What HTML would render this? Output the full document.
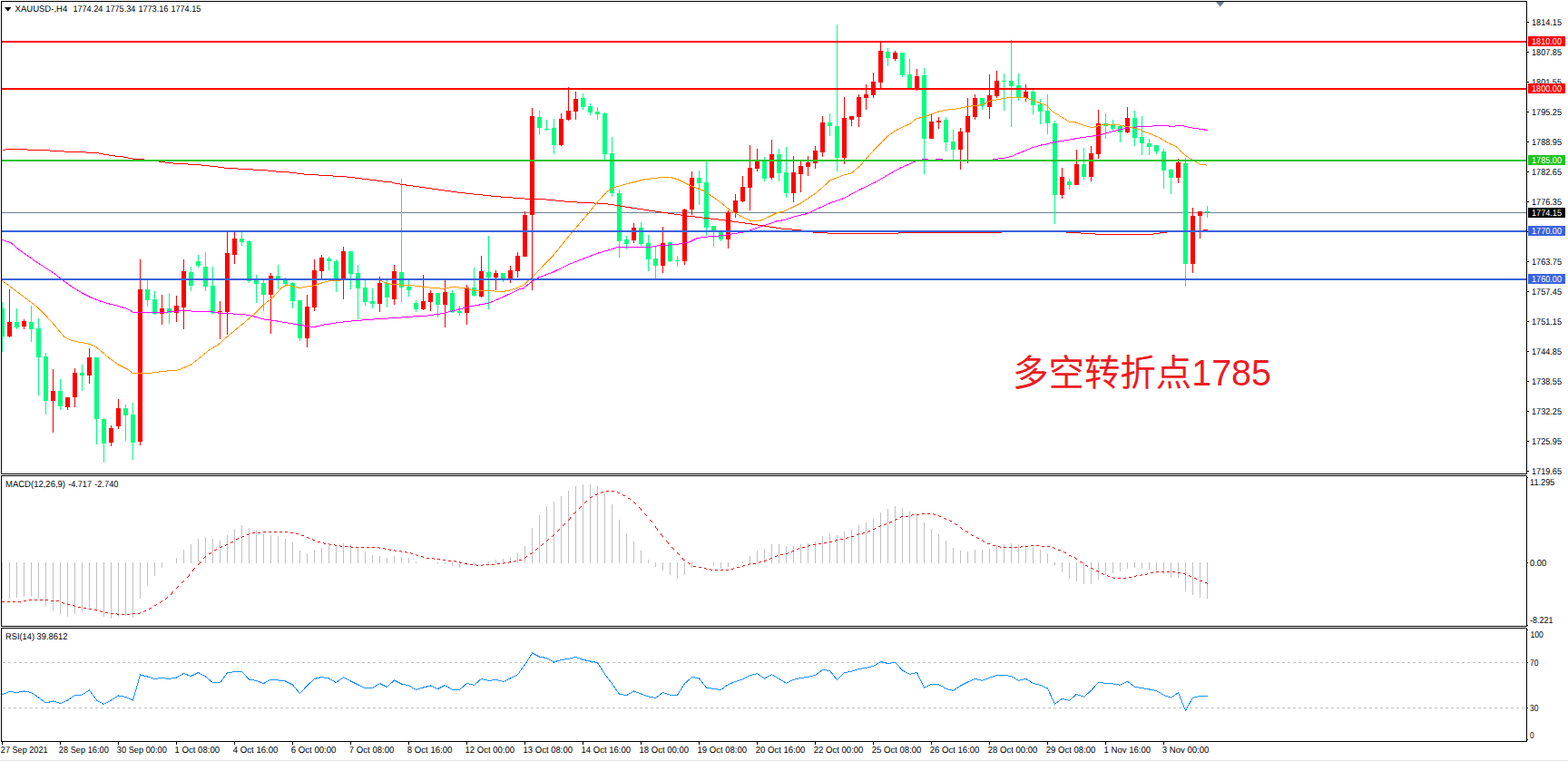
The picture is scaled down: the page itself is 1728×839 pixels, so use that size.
<!DOCTYPE html>
<html><head><meta charset="utf-8"><title>XAUUSD H4</title><style>html,body{margin:0;padding:0;background:#fff;overflow:hidden}svg{display:block}</style></head><body><svg width="1728" height="839" viewBox="0 0 1728 839" font-family="'Liberation Sans', sans-serif" shape-rendering="crispEdges">
<rect x="0" y="0" width="1728" height="839" fill="#fff"/>
<rect x="0" y="838" width="1728" height="1" fill="#e4e4e4"/>
<rect x="2" y="234" width="1680" height="1" fill="#708090"/>
<g>
<rect x="2" y="333" width="1" height="55" fill="#00ff7f"/><rect x="2" y="340" width="3" height="31" fill="#00ff7f"/>
<rect x="10" y="319" width="1" height="53" fill="#ff0000"/><rect x="8" y="355" width="5" height="16" fill="#ff0000"/>
<rect x="18" y="340" width="1" height="23" fill="#00ff7f"/><rect x="16" y="355" width="5" height="6" fill="#00ff7f"/>
<rect x="26" y="352" width="1" height="11" fill="#ff0000"/><rect x="24" y="354" width="5" height="6" fill="#ff0000"/>
<rect x="34" y="337" width="1" height="40" fill="#00ff7f"/><rect x="32" y="355" width="5" height="8" fill="#00ff7f"/>
<rect x="42" y="351" width="1" height="85" fill="#00ff7f"/><rect x="40" y="362" width="5" height="32" fill="#00ff7f"/>
<rect x="50" y="389" width="1" height="68" fill="#00ff7f"/><rect x="48" y="393" width="5" height="49" fill="#00ff7f"/>
<rect x="58" y="407" width="1" height="70" fill="#ff0000"/><rect x="56" y="431" width="5" height="11" fill="#ff0000"/>
<rect x="66" y="418" width="1" height="34" fill="#00ff7f"/><rect x="64" y="431" width="5" height="17" fill="#00ff7f"/>
<rect x="74" y="438" width="1" height="14" fill="#ff0000"/><rect x="72" y="438" width="5" height="11" fill="#ff0000"/>
<rect x="82" y="406" width="1" height="43" fill="#ff0000"/><rect x="80" y="411" width="5" height="27" fill="#ff0000"/>
<rect x="90" y="402" width="1" height="29" fill="#00ff7f"/><rect x="88" y="411" width="5" height="3" fill="#00ff7f"/>
<rect x="98" y="384" width="1" height="39" fill="#ff0000"/><rect x="96" y="394" width="5" height="20" fill="#ff0000"/>
<rect x="106" y="394" width="1" height="96" fill="#00ff7f"/><rect x="104" y="394" width="5" height="68" fill="#00ff7f"/>
<rect x="114" y="461" width="1" height="49" fill="#00ff7f"/><rect x="112" y="462" width="5" height="27" fill="#00ff7f"/>
<rect x="122" y="469" width="1" height="23" fill="#ff0000"/><rect x="120" y="472" width="5" height="16" fill="#ff0000"/>
<rect x="130" y="440" width="1" height="33" fill="#ff0000"/><rect x="128" y="450" width="5" height="20" fill="#ff0000"/>
<rect x="138" y="446" width="1" height="40" fill="#00ff7f"/><rect x="136" y="450" width="5" height="8" fill="#00ff7f"/>
<rect x="146" y="444" width="1" height="63" fill="#00ff7f"/><rect x="144" y="457" width="5" height="31" fill="#00ff7f"/>
<rect x="154" y="286" width="1" height="205" fill="#ff0000"/><rect x="152" y="319" width="5" height="168" fill="#ff0000"/>
<rect x="162" y="309" width="1" height="29" fill="#00ff7f"/><rect x="160" y="319" width="5" height="12" fill="#00ff7f"/>
<rect x="170" y="321" width="1" height="26" fill="#00ff7f"/><rect x="168" y="330" width="5" height="16" fill="#00ff7f"/>
<rect x="178" y="325" width="1" height="33" fill="#ff0000"/><rect x="176" y="340" width="5" height="6" fill="#ff0000"/>
<rect x="186" y="323" width="1" height="34" fill="#00ff7f"/><rect x="184" y="340" width="5" height="5" fill="#00ff7f"/>
<rect x="194" y="326" width="1" height="29" fill="#ff0000"/><rect x="192" y="337" width="5" height="8" fill="#ff0000"/>
<rect x="202" y="286" width="1" height="77" fill="#ff0000"/><rect x="200" y="299" width="5" height="40" fill="#ff0000"/>
<rect x="210" y="294" width="1" height="27" fill="#00ff7f"/><rect x="208" y="300" width="5" height="15" fill="#00ff7f"/>
<rect x="218" y="281" width="1" height="14" fill="#00ff7f"/><rect x="216" y="288" width="5" height="5" fill="#00ff7f"/>
<rect x="226" y="278" width="1" height="43" fill="#00ff7f"/><rect x="224" y="294" width="5" height="22" fill="#00ff7f"/>
<rect x="234" y="294" width="1" height="52" fill="#00ff7f"/><rect x="232" y="315" width="5" height="30" fill="#00ff7f"/>
<rect x="242" y="332" width="1" height="42" fill="#ff0000"/><rect x="240" y="343" width="5" height="1" fill="#ff0000"/>
<rect x="250" y="256" width="1" height="113" fill="#ff0000"/><rect x="248" y="279" width="5" height="65" fill="#ff0000"/>
<rect x="258" y="256" width="1" height="35" fill="#ff0000"/><rect x="256" y="263" width="5" height="18" fill="#ff0000"/>
<rect x="266" y="256" width="1" height="15" fill="#00ff7f"/><rect x="264" y="263" width="5" height="4" fill="#00ff7f"/>
<rect x="274" y="265" width="1" height="47" fill="#00ff7f"/><rect x="272" y="266" width="5" height="44" fill="#00ff7f"/>
<rect x="282" y="303" width="1" height="31" fill="#00ff7f"/><rect x="280" y="308" width="5" height="5" fill="#00ff7f"/>
<rect x="290" y="308" width="1" height="35" fill="#00ff7f"/><rect x="288" y="312" width="5" height="13" fill="#00ff7f"/>
<rect x="298" y="301" width="1" height="67" fill="#ff0000"/><rect x="296" y="304" width="5" height="21" fill="#ff0000"/>
<rect x="306" y="292" width="1" height="27" fill="#00ff7f"/><rect x="304" y="304" width="5" height="4" fill="#00ff7f"/>
<rect x="314" y="306" width="1" height="8" fill="#00ff7f"/><rect x="312" y="308" width="5" height="5" fill="#00ff7f"/>
<rect x="322" y="311" width="1" height="29" fill="#00ff7f"/><rect x="320" y="312" width="5" height="20" fill="#00ff7f"/>
<rect x="330" y="331" width="1" height="45" fill="#00ff7f"/><rect x="328" y="331" width="5" height="42" fill="#00ff7f"/>
<rect x="338" y="325" width="1" height="58" fill="#ff0000"/><rect x="336" y="338" width="5" height="35" fill="#ff0000"/>
<rect x="346" y="286" width="1" height="57" fill="#ff0000"/><rect x="344" y="298" width="5" height="41" fill="#ff0000"/>
<rect x="354" y="281" width="1" height="26" fill="#ff0000"/><rect x="352" y="284" width="5" height="15" fill="#ff0000"/>
<rect x="362" y="283" width="1" height="15" fill="#00ff7f"/><rect x="360" y="285" width="5" height="3" fill="#00ff7f"/>
<rect x="370" y="286" width="1" height="36" fill="#00ff7f"/><rect x="368" y="288" width="5" height="20" fill="#00ff7f"/>
<rect x="378" y="272" width="1" height="58" fill="#ff0000"/><rect x="376" y="277" width="5" height="31" fill="#ff0000"/>
<rect x="386" y="277" width="1" height="42" fill="#00ff7f"/><rect x="384" y="277" width="5" height="25" fill="#00ff7f"/>
<rect x="394" y="292" width="1" height="60" fill="#00ff7f"/><rect x="392" y="301" width="5" height="17" fill="#00ff7f"/>
<rect x="402" y="309" width="1" height="28" fill="#00ff7f"/><rect x="400" y="317" width="5" height="16" fill="#00ff7f"/>
<rect x="410" y="318" width="1" height="22" fill="#00ff7f"/><rect x="408" y="332" width="5" height="3" fill="#00ff7f"/>
<rect x="418" y="305" width="1" height="39" fill="#ff0000"/><rect x="416" y="312" width="5" height="23" fill="#ff0000"/>
<rect x="426" y="308" width="1" height="31" fill="#00ff7f"/><rect x="424" y="312" width="5" height="16" fill="#00ff7f"/>
<rect x="434" y="292" width="1" height="44" fill="#ff0000"/><rect x="432" y="299" width="5" height="31" fill="#ff0000"/>
<rect x="442" y="197" width="1" height="136" fill="#00ff7f"/><rect x="440" y="300" width="5" height="17" fill="#00ff7f"/>
<rect x="450" y="308" width="1" height="19" fill="#00ff7f"/><rect x="448" y="316" width="5" height="4" fill="#00ff7f"/>
<rect x="458" y="331" width="1" height="13" fill="#00ff7f"/><rect x="456" y="334" width="5" height="7" fill="#00ff7f"/>
<rect x="466" y="303" width="1" height="39" fill="#ff0000"/><rect x="464" y="332" width="5" height="9" fill="#ff0000"/>
<rect x="474" y="320" width="1" height="23" fill="#ff0000"/><rect x="472" y="323" width="5" height="10" fill="#ff0000"/>
<rect x="482" y="323" width="1" height="27" fill="#00ff7f"/><rect x="480" y="323" width="5" height="13" fill="#00ff7f"/>
<rect x="490" y="309" width="1" height="52" fill="#ff0000"/><rect x="488" y="322" width="5" height="14" fill="#ff0000"/>
<rect x="498" y="320" width="1" height="25" fill="#00ff7f"/><rect x="496" y="323" width="5" height="21" fill="#00ff7f"/>
<rect x="506" y="337" width="1" height="11" fill="#00ff7f"/><rect x="504" y="343" width="5" height="2" fill="#00ff7f"/>
<rect x="514" y="314" width="1" height="44" fill="#ff0000"/><rect x="512" y="317" width="5" height="28" fill="#ff0000"/>
<rect x="522" y="295" width="1" height="32" fill="#00ff7f"/><rect x="520" y="317" width="5" height="9" fill="#00ff7f"/>
<rect x="530" y="282" width="1" height="46" fill="#ff0000"/><rect x="528" y="299" width="5" height="28" fill="#ff0000"/>
<rect x="538" y="260" width="1" height="81" fill="#00ff7f"/><rect x="536" y="300" width="5" height="6" fill="#00ff7f"/>
<rect x="546" y="298" width="1" height="22" fill="#ff0000"/><rect x="544" y="301" width="5" height="5" fill="#ff0000"/>
<rect x="554" y="301" width="1" height="10" fill="#00ff7f"/><rect x="552" y="301" width="5" height="7" fill="#00ff7f"/>
<rect x="562" y="293" width="1" height="19" fill="#ff0000"/><rect x="560" y="298" width="5" height="10" fill="#ff0000"/>
<rect x="570" y="278" width="1" height="28" fill="#ff0000"/><rect x="568" y="282" width="5" height="17" fill="#ff0000"/>
<rect x="578" y="233" width="1" height="50" fill="#ff0000"/><rect x="576" y="237" width="5" height="46" fill="#ff0000"/>
<rect x="586" y="119" width="1" height="201" fill="#ff0000"/><rect x="584" y="128" width="5" height="109" fill="#ff0000"/>
<rect x="594" y="122" width="1" height="27" fill="#00ff7f"/><rect x="592" y="129" width="5" height="12" fill="#00ff7f"/>
<rect x="602" y="132" width="1" height="12" fill="#00ff7f"/><rect x="600" y="142" width="5" height="1" fill="#00ff7f"/>
<rect x="610" y="131" width="1" height="39" fill="#00ff7f"/><rect x="608" y="141" width="5" height="19" fill="#00ff7f"/>
<rect x="618" y="125" width="1" height="36" fill="#ff0000"/><rect x="616" y="131" width="5" height="29" fill="#ff0000"/>
<rect x="626" y="96" width="1" height="37" fill="#ff0000"/><rect x="624" y="122" width="5" height="10" fill="#ff0000"/>
<rect x="634" y="101" width="1" height="31" fill="#ff0000"/><rect x="632" y="109" width="5" height="14" fill="#ff0000"/>
<rect x="642" y="103" width="1" height="18" fill="#00ff7f"/><rect x="640" y="108" width="5" height="10" fill="#00ff7f"/>
<rect x="650" y="114" width="1" height="13" fill="#00ff7f"/><rect x="648" y="117" width="5" height="7" fill="#00ff7f"/>
<rect x="658" y="118" width="1" height="14" fill="#00ff7f"/><rect x="656" y="123" width="5" height="3" fill="#00ff7f"/>
<rect x="666" y="124" width="1" height="52" fill="#00ff7f"/><rect x="664" y="125" width="5" height="45" fill="#00ff7f"/>
<rect x="674" y="151" width="1" height="66" fill="#00ff7f"/><rect x="672" y="169" width="5" height="44" fill="#00ff7f"/>
<rect x="682" y="209" width="1" height="75" fill="#00ff7f"/><rect x="680" y="213" width="5" height="53" fill="#00ff7f"/>
<rect x="690" y="260" width="1" height="15" fill="#00ff7f"/><rect x="688" y="264" width="5" height="5" fill="#00ff7f"/>
<rect x="698" y="246" width="1" height="22" fill="#ff0000"/><rect x="696" y="251" width="5" height="14" fill="#ff0000"/>
<rect x="706" y="245" width="1" height="26" fill="#00ff7f"/><rect x="704" y="251" width="5" height="18" fill="#00ff7f"/>
<rect x="714" y="259" width="1" height="40" fill="#00ff7f"/><rect x="712" y="268" width="5" height="18" fill="#00ff7f"/>
<rect x="722" y="272" width="1" height="35" fill="#00ff7f"/><rect x="720" y="285" width="5" height="8" fill="#00ff7f"/>
<rect x="730" y="250" width="1" height="51" fill="#ff0000"/><rect x="728" y="268" width="5" height="25" fill="#ff0000"/>
<rect x="738" y="267" width="1" height="22" fill="#00ff7f"/><rect x="736" y="267" width="5" height="21" fill="#00ff7f"/>
<rect x="746" y="282" width="1" height="12" fill="#00ff7f"/><rect x="744" y="287" width="5" height="1" fill="#00ff7f"/>
<rect x="754" y="230" width="1" height="62" fill="#ff0000"/><rect x="752" y="231" width="5" height="57" fill="#ff0000"/>
<rect x="762" y="189" width="1" height="48" fill="#ff0000"/><rect x="760" y="196" width="5" height="35" fill="#ff0000"/>
<rect x="770" y="188" width="1" height="38" fill="#00ff7f"/><rect x="768" y="196" width="5" height="6" fill="#00ff7f"/>
<rect x="778" y="178" width="1" height="82" fill="#00ff7f"/><rect x="776" y="201" width="5" height="50" fill="#00ff7f"/>
<rect x="786" y="249" width="1" height="23" fill="#00ff7f"/><rect x="784" y="249" width="5" height="5" fill="#00ff7f"/>
<rect x="794" y="254" width="1" height="12" fill="#00ff7f"/><rect x="792" y="254" width="5" height="10" fill="#00ff7f"/>
<rect x="802" y="232" width="1" height="42" fill="#ff0000"/><rect x="800" y="234" width="5" height="30" fill="#ff0000"/>
<rect x="810" y="214" width="1" height="26" fill="#ff0000"/><rect x="808" y="221" width="5" height="14" fill="#ff0000"/>
<rect x="818" y="194" width="1" height="29" fill="#ff0000"/><rect x="816" y="206" width="5" height="16" fill="#ff0000"/>
<rect x="826" y="160" width="1" height="72" fill="#ff0000"/><rect x="824" y="185" width="5" height="22" fill="#ff0000"/>
<rect x="834" y="164" width="1" height="25" fill="#ff0000"/><rect x="832" y="177" width="5" height="9" fill="#ff0000"/>
<rect x="842" y="173" width="1" height="27" fill="#00ff7f"/><rect x="840" y="177" width="5" height="20" fill="#00ff7f"/>
<rect x="850" y="154" width="1" height="44" fill="#ff0000"/><rect x="848" y="170" width="5" height="26" fill="#ff0000"/>
<rect x="858" y="164" width="1" height="36" fill="#00ff7f"/><rect x="856" y="170" width="5" height="21" fill="#00ff7f"/>
<rect x="866" y="162" width="1" height="56" fill="#00ff7f"/><rect x="864" y="190" width="5" height="23" fill="#00ff7f"/>
<rect x="874" y="172" width="1" height="51" fill="#ff0000"/><rect x="872" y="190" width="5" height="23" fill="#ff0000"/>
<rect x="882" y="178" width="1" height="34" fill="#ff0000"/><rect x="880" y="183" width="5" height="9" fill="#ff0000"/>
<rect x="890" y="172" width="1" height="22" fill="#ff0000"/><rect x="888" y="179" width="5" height="5" fill="#ff0000"/>
<rect x="898" y="161" width="1" height="25" fill="#ff0000"/><rect x="896" y="166" width="5" height="14" fill="#ff0000"/>
<rect x="906" y="128" width="1" height="45" fill="#ff0000"/><rect x="904" y="135" width="5" height="33" fill="#ff0000"/>
<rect x="914" y="125" width="1" height="25" fill="#00ff7f"/><rect x="912" y="135" width="5" height="4" fill="#00ff7f"/>
<rect x="922" y="27" width="1" height="162" fill="#00ff7f"/><rect x="920" y="139" width="5" height="35" fill="#00ff7f"/>
<rect x="930" y="107" width="1" height="74" fill="#ff0000"/><rect x="928" y="130" width="5" height="44" fill="#ff0000"/>
<rect x="938" y="128" width="1" height="11" fill="#ff0000"/><rect x="936" y="128" width="5" height="4" fill="#ff0000"/>
<rect x="946" y="104" width="1" height="36" fill="#ff0000"/><rect x="944" y="107" width="5" height="22" fill="#ff0000"/>
<rect x="954" y="93" width="1" height="28" fill="#ff0000"/><rect x="952" y="104" width="5" height="4" fill="#ff0000"/>
<rect x="962" y="80" width="1" height="28" fill="#ff0000"/><rect x="960" y="90" width="5" height="15" fill="#ff0000"/>
<rect x="970" y="47" width="1" height="50" fill="#ff0000"/><rect x="968" y="56" width="5" height="35" fill="#ff0000"/>
<rect x="978" y="53" width="1" height="20" fill="#00ff7f"/><rect x="976" y="57" width="5" height="7" fill="#00ff7f"/>
<rect x="986" y="56" width="1" height="11" fill="#ff0000"/><rect x="984" y="58" width="5" height="7" fill="#ff0000"/>
<rect x="994" y="58" width="1" height="27" fill="#00ff7f"/><rect x="992" y="58" width="5" height="25" fill="#00ff7f"/>
<rect x="1002" y="65" width="1" height="33" fill="#00ff7f"/><rect x="1000" y="82" width="5" height="16" fill="#00ff7f"/>
<rect x="1010" y="76" width="1" height="24" fill="#ff0000"/><rect x="1008" y="84" width="5" height="15" fill="#ff0000"/>
<rect x="1018" y="75" width="1" height="117" fill="#00ff7f"/><rect x="1016" y="83" width="5" height="70" fill="#00ff7f"/>
<rect x="1026" y="125" width="1" height="28" fill="#ff0000"/><rect x="1024" y="134" width="5" height="19" fill="#ff0000"/>
<rect x="1034" y="129" width="1" height="13" fill="#ff0000"/><rect x="1032" y="133" width="5" height="2" fill="#ff0000"/>
<rect x="1042" y="129" width="1" height="38" fill="#00ff7f"/><rect x="1040" y="132" width="5" height="25" fill="#00ff7f"/>
<rect x="1050" y="143" width="1" height="33" fill="#00ff7f"/><rect x="1048" y="156" width="5" height="9" fill="#00ff7f"/>
<rect x="1058" y="141" width="1" height="46" fill="#ff0000"/><rect x="1056" y="145" width="5" height="20" fill="#ff0000"/>
<rect x="1066" y="108" width="1" height="72" fill="#ff0000"/><rect x="1064" y="128" width="5" height="18" fill="#ff0000"/>
<rect x="1074" y="104" width="1" height="28" fill="#ff0000"/><rect x="1072" y="108" width="5" height="21" fill="#ff0000"/>
<rect x="1082" y="108" width="1" height="13" fill="#00ff7f"/><rect x="1080" y="108" width="5" height="9" fill="#00ff7f"/>
<rect x="1090" y="82" width="1" height="49" fill="#ff0000"/><rect x="1088" y="105" width="5" height="13" fill="#ff0000"/>
<rect x="1098" y="78" width="1" height="30" fill="#ff0000"/><rect x="1096" y="89" width="5" height="17" fill="#ff0000"/>
<rect x="1106" y="81" width="1" height="41" fill="#00ff7f"/><rect x="1104" y="89" width="5" height="1" fill="#00ff7f"/>
<rect x="1114" y="44" width="1" height="96" fill="#00ff7f"/><rect x="1112" y="89" width="5" height="6" fill="#00ff7f"/>
<rect x="1122" y="81" width="1" height="30" fill="#00ff7f"/><rect x="1120" y="94" width="5" height="14" fill="#00ff7f"/>
<rect x="1130" y="93" width="1" height="19" fill="#ff0000"/><rect x="1128" y="101" width="5" height="7" fill="#ff0000"/>
<rect x="1138" y="99" width="1" height="27" fill="#00ff7f"/><rect x="1136" y="101" width="5" height="15" fill="#00ff7f"/>
<rect x="1146" y="109" width="1" height="28" fill="#00ff7f"/><rect x="1144" y="115" width="5" height="8" fill="#00ff7f"/>
<rect x="1154" y="104" width="1" height="44" fill="#00ff7f"/><rect x="1152" y="122" width="5" height="14" fill="#00ff7f"/>
<rect x="1162" y="133" width="1" height="114" fill="#00ff7f"/><rect x="1160" y="136" width="5" height="79" fill="#00ff7f"/>
<rect x="1170" y="185" width="1" height="34" fill="#ff0000"/><rect x="1168" y="195" width="5" height="20" fill="#ff0000"/>
<rect x="1178" y="197" width="1" height="12" fill="#00ff7f"/><rect x="1176" y="200" width="5" height="4" fill="#00ff7f"/>
<rect x="1186" y="165" width="1" height="39" fill="#ff0000"/><rect x="1184" y="181" width="5" height="23" fill="#ff0000"/>
<rect x="1194" y="163" width="1" height="35" fill="#00ff7f"/><rect x="1192" y="181" width="5" height="14" fill="#00ff7f"/>
<rect x="1202" y="161" width="1" height="39" fill="#ff0000"/><rect x="1200" y="169" width="5" height="26" fill="#ff0000"/>
<rect x="1210" y="121" width="1" height="54" fill="#ff0000"/><rect x="1208" y="136" width="5" height="34" fill="#ff0000"/>
<rect x="1218" y="125" width="1" height="28" fill="#00ff7f"/><rect x="1216" y="136" width="5" height="3" fill="#00ff7f"/>
<rect x="1226" y="132" width="1" height="13" fill="#00ff7f"/><rect x="1224" y="138" width="5" height="4" fill="#00ff7f"/>
<rect x="1234" y="138" width="1" height="19" fill="#00ff7f"/><rect x="1232" y="139" width="5" height="7" fill="#00ff7f"/>
<rect x="1242" y="118" width="1" height="29" fill="#ff0000"/><rect x="1240" y="130" width="5" height="16" fill="#ff0000"/>
<rect x="1250" y="122" width="1" height="39" fill="#00ff7f"/><rect x="1248" y="130" width="5" height="22" fill="#00ff7f"/>
<rect x="1258" y="128" width="1" height="43" fill="#00ff7f"/><rect x="1256" y="151" width="5" height="7" fill="#00ff7f"/>
<rect x="1266" y="153" width="1" height="18" fill="#00ff7f"/><rect x="1264" y="158" width="5" height="4" fill="#00ff7f"/>
<rect x="1274" y="160" width="1" height="10" fill="#00ff7f"/><rect x="1272" y="160" width="5" height="7" fill="#00ff7f"/>
<rect x="1282" y="164" width="1" height="44" fill="#00ff7f"/><rect x="1280" y="167" width="5" height="21" fill="#00ff7f"/>
<rect x="1290" y="186" width="1" height="28" fill="#00ff7f"/><rect x="1288" y="187" width="5" height="9" fill="#00ff7f"/>
<rect x="1298" y="175" width="1" height="27" fill="#ff0000"/><rect x="1296" y="179" width="5" height="17" fill="#ff0000"/>
<rect x="1306" y="174" width="1" height="142" fill="#00ff7f"/><rect x="1304" y="180" width="5" height="111" fill="#00ff7f"/>
<rect x="1314" y="229" width="1" height="72" fill="#ff0000"/><rect x="1312" y="238" width="5" height="53" fill="#ff0000"/>
<rect x="1322" y="233" width="1" height="30" fill="#ff0000"/><rect x="1320" y="233" width="5" height="5" fill="#ff0000"/>
<rect x="1330" y="227" width="1" height="13" fill="#00ff7f"/><rect x="1328" y="233" width="5" height="1" fill="#00ff7f"/>
</g>
<polyline points="2.5,165.5 5.5,165.5 6.5,164.5 29.5,164.5 30.5,165.5 54.5,165.5 55.5,166.5 70.5,166.5 71.5,167.5 94.5,167.5 95.5,168.5 108.5,168.5 109.5,169.5 113.5,169.5 114.5,170.5 119.5,170.5 120.5,171.5 126.5,171.5 127.5,172.5 135.5,172.5 136.5,173.5 140.5,173.5 141.5,174.5 145.5,174.5 146.5,175.5 158.5,175.5 159.5,176.5 166.5,176.5 167.5,177.5 174.5,177.5 175.5,178.5 181.5,178.5 182.5,179.5 190.5,179.5 191.5,180.5 206.5,180.5 207.5,181.5 221.5,181.5 222.5,182.5 230.5,182.5 231.5,183.5 239.5,183.5 240.5,184.5 246.5,184.5 247.5,185.5 261.5,185.5 262.5,186.5 278.5,186.5 279.5,187.5 294.5,187.5 295.5,188.5 303.5,188.5 304.5,189.5 318.5,189.5 319.5,190.5 326.5,190.5 327.5,191.5 334.5,191.5 335.5,192.5 350.5,192.5 351.5,193.5 366.5,193.5 367.5,194.5 381.5,194.5 382.5,195.5 390.5,195.5 391.5,196.5 398.5,196.5 399.5,197.5 406.5,197.5 407.5,198.5 414.5,198.5 415.5,199.5 421.5,199.5 422.5,200.5 431.5,200.5 432.5,201.5 442.5,203.3 505.5,212.2 547.5,216.7 586.5,219.7 598.5,219.7 626.5,222.5 668.5,224.7 693.5,228.7 726.5,233.7 759.5,238.3 793.5,242.2 826.5,246.7 864.5,252.5 878.5,253.3 895.5,256.0 920.5,257.5 965.5,258.0 990.5,257.0 1062.5,256.2 1080.5,257.0 1098.5,256.5 1110.5,255.5 1174.5,255.5 1175.5,256.5 1190.5,256.5 1191.5,257.5 1206.5,257.5 1207.5,258.5 1270.5,258.5 1271.5,257.5 1277.5,257.5 1278.5,256.5 1285.5,256.5 1286.5,255.5 1325.5,255.5 1326.5,253.5 1330.5,253.5" fill="none" stroke="#ff0000" stroke-width="1" />
<polyline points="2.5,264.3 12.5,268.0 20.5,275.0 40.5,289.0 60.5,302.0 70.5,310.0 80.5,317.0 90.5,323.0 100.5,328.0 110.5,332.0 120.5,335.0 130.5,337.4 140.5,340.6 146.5,344.3 180.5,344.5 190.5,343.5 200.5,342.5 210.5,343.0 230.5,343.4 238.5,344.5 242.5,345.5 252.5,345.8 268.5,346.5 280.5,349.0 290.5,352.0 305.5,354.0 321.5,356.7 338.5,359.7 346.5,360.5 355.5,358.3 371.5,355.8 388.5,353.8 405.5,352.5 421.5,351.3 438.5,350.3 455.5,349.0 471.5,348.0 488.5,345.5 505.5,341.0 521.5,337.2 538.5,334.3 555.5,327.0 571.5,319.2 576.5,318.0 586.5,310.3 593.5,306.0 609.5,300.0 626.5,291.7 643.5,285.0 659.5,279.0 676.5,274.0 681.5,272.2 718.5,272.2 726.5,270.5 743.5,269.7 759.5,267.0 768.5,262.5 776.5,261.3 793.5,260.0 809.5,257.5 820.5,255.8 830.5,252.5 843.5,248.3 855.5,244.0 864.5,242.5 872.5,239.7 889.5,235.5 897.5,231.7 914.5,224.0 930.5,218.3 947.5,209.0 964.5,201.0 980.5,191.7 992.5,185.0 1002.5,180.8 1009.5,177.5 1015.5,176.5 1016.5,175.5 1022.5,175.5 1023.5,176.5 1030.5,176.5 1031.5,175.5 1038.5,175.5 1039.5,176.5 1093.5,176.5 1094.5,175.5 1105.5,174.5 1114.5,172.5 1122.5,169.0 1130.5,165.8 1138.5,162.5 1147.5,160.0 1152.5,159.2 1160.5,157.0 1177.5,154.2 1194.5,151.3 1210.5,149.2 1219.5,146.7 1227.5,144.7 1235.5,142.5 1244.5,140.8 1252.5,140.0 1260.5,139.2 1269.5,139.2 1273.5,138.3 1285.5,138.3 1290.5,139.5 1294.5,139.2 1298.5,138.3 1302.5,138.3 1310.5,140.5 1319.5,141.7 1327.5,143.0 1330.5,143.7" fill="none" stroke="#ff00ff" stroke-width="1" />
<polyline points="2.5,309.5 20.5,323.0 40.5,338.0 50.5,348.0 60.5,359.0 70.5,371.0 76.5,374.5 84.5,376.7 96.5,378.7 104.5,381.5 112.5,388.0 120.5,395.0 130.5,402.0 140.5,407.0 146.5,411.5 166.5,411.2 180.5,409.3 196.5,408.0 210.5,402.0 220.5,394.0 230.5,386.0 240.5,380.0 250.5,371.0 260.5,363.0 270.5,354.5 280.5,346.0 290.5,336.0 300.5,328.0 310.5,317.0 316.5,314.0 321.5,315.3 330.5,317.5 338.5,316.0 346.5,314.7 355.5,311.7 363.5,309.5 371.5,309.5 380.5,308.5 400.5,308.0 418.5,308.8 425.5,312.0 433.5,313.8 450.5,314.3 463.5,315.8 475.5,317.3 488.5,318.3 496.5,316.7 505.5,317.0 513.5,317.7 521.5,320.0 538.5,320.3 546.5,321.2 555.5,321.2 563.5,319.7 571.5,316.7 576.5,314.7 586.5,305.5 593.5,298.3 609.5,282.0 626.5,260.8 643.5,240.8 659.5,221.7 668.5,211.7 676.5,206.7 693.5,202.0 709.5,198.0 726.5,195.8 738.5,195.5 746.5,197.5 759.5,204.0 776.5,210.8 793.5,222.5 804.5,231.7 814.5,237.5 826.5,243.0 838.5,243.0 847.5,239.0 855.5,235.0 864.5,232.8 872.5,229.0 882.5,224.0 897.5,214.0 906.5,206.7 914.5,199.0 922.5,195.8 930.5,192.8 938.5,190.8 947.5,183.3 955.5,174.0 964.5,164.0 972.5,155.8 980.5,148.3 988.5,143.0 1002.5,136.7 1010.5,130.6 1018.5,129.0 1026.5,125.8 1034.5,123.0 1042.5,121.3 1054.5,120.0 1066.5,117.5 1074.5,116.3 1082.5,115.8 1090.5,111.2 1098.5,110.0 1106.5,108.3 1114.5,107.2 1122.5,107.2 1130.5,108.0 1138.5,110.5 1146.5,113.8 1152.5,115.8 1160.5,123.3 1169.5,128.7 1177.5,134.0 1185.5,135.0 1194.5,138.3 1202.5,140.3 1205.5,140.3 1210.5,138.7 1218.5,137.0 1227.5,137.0 1235.5,138.3 1244.5,140.0 1252.5,141.7 1256.5,142.5 1260.5,145.0 1269.5,148.3 1277.5,151.7 1285.5,156.7 1294.5,160.8 1298.5,163.3 1302.5,168.3 1310.5,174.2 1319.5,179.2 1322.5,181.2 1330.5,182.2" fill="none" stroke="#ff9900" stroke-width="1" />
<rect x="2" y="45" width="1680" height="2" fill="#ff0000"/>
<rect x="2" y="97" width="1680" height="2" fill="#ff0000"/>
<rect x="2" y="176" width="1680" height="2" fill="#22c322"/>
<rect x="2" y="254" width="1680" height="2" fill="#3a63dc"/>
<rect x="2" y="307" width="1680" height="2" fill="#3a63dc"/>
<rect x="1" y="1" width="1682" height="1" fill="#000"/>
<rect x="1" y="1" width="1" height="522" fill="#000"/>
<rect x="1" y="522" width="1682" height="1" fill="#000"/>
<rect x="1" y="524" width="1682" height="1" fill="#000"/>
<rect x="1" y="524" width="1" height="167" fill="#000"/>
<rect x="1" y="690" width="1682" height="1" fill="#000"/>
<rect x="1" y="692" width="1682" height="1" fill="#000"/>
<rect x="1" y="692" width="1" height="126" fill="#000"/>
<rect x="1" y="817" width="1682" height="1" fill="#000"/>
<rect x="1682" y="1" width="1" height="522" fill="#000"/>
<rect x="1682" y="524" width="1" height="167" fill="#000"/>
<rect x="1682" y="692" width="1" height="126" fill="#000"/>
<polygon points="1340,2 1349.5,2 1344.7,7.5" fill="#708090" shape-rendering="auto"/>
<polygon points="5,8 12.5,8 8.75,12.5" fill="#000" shape-rendering="auto"/>
<g shape-rendering="auto" text-rendering="geometricPrecision">
<text x="16.6" y="13" font-size="10" fill="#000" textLength="57.6" lengthAdjust="spacingAndGlyphs" xml:space="preserve">XAUUSD-,H4</text>
<text x="80.4" y="13" font-size="10" fill="#000" textLength="33.0" lengthAdjust="spacingAndGlyphs" xml:space="preserve">1774.24</text>
<text x="116.4" y="13" font-size="10" fill="#000" textLength="33.0" lengthAdjust="spacingAndGlyphs" xml:space="preserve">1775.34</text>
<text x="152.4" y="13" font-size="10" fill="#000" textLength="33.0" lengthAdjust="spacingAndGlyphs" xml:space="preserve">1773.16</text>
<text x="188.4" y="13" font-size="10" fill="#000" textLength="33.0" lengthAdjust="spacingAndGlyphs" xml:space="preserve">1774.15</text>
<rect x="1683" y="24" width="2" height="1" fill="#000"/>
<text x="1688" y="28" font-size="10" fill="#000" textLength="33.0" lengthAdjust="spacingAndGlyphs" xml:space="preserve">1814.15</text>
<rect x="1683" y="57" width="2" height="1" fill="#000"/>
<text x="1688" y="61" font-size="10" fill="#000" textLength="33.0" lengthAdjust="spacingAndGlyphs" xml:space="preserve">1807.85</text>
<rect x="1683" y="90" width="2" height="1" fill="#000"/>
<text x="1688" y="94" font-size="10" fill="#000" textLength="33.0" lengthAdjust="spacingAndGlyphs" xml:space="preserve">1801.55</text>
<rect x="1683" y="123" width="2" height="1" fill="#000"/>
<text x="1688" y="127" font-size="10" fill="#000" textLength="33.0" lengthAdjust="spacingAndGlyphs" xml:space="preserve">1795.25</text>
<rect x="1683" y="156" width="2" height="1" fill="#000"/>
<text x="1688" y="160" font-size="10" fill="#000" textLength="33.0" lengthAdjust="spacingAndGlyphs" xml:space="preserve">1788.95</text>
<rect x="1683" y="189" width="2" height="1" fill="#000"/>
<text x="1688" y="193" font-size="10" fill="#000" textLength="33.0" lengthAdjust="spacingAndGlyphs" xml:space="preserve">1782.65</text>
<rect x="1683" y="222" width="2" height="1" fill="#000"/>
<text x="1688" y="226" font-size="10" fill="#000" textLength="33.0" lengthAdjust="spacingAndGlyphs" xml:space="preserve">1776.35</text>
<rect x="1683" y="255" width="2" height="1" fill="#000"/>
<rect x="1683" y="288" width="2" height="1" fill="#000"/>
<text x="1688" y="292" font-size="10" fill="#000" textLength="33.0" lengthAdjust="spacingAndGlyphs" xml:space="preserve">1763.75</text>
<rect x="1683" y="321" width="2" height="1" fill="#000"/>
<text x="1688" y="325" font-size="10" fill="#000" textLength="33.0" lengthAdjust="spacingAndGlyphs" xml:space="preserve">1757.45</text>
<rect x="1683" y="354" width="2" height="1" fill="#000"/>
<text x="1688" y="358" font-size="10" fill="#000" textLength="33.0" lengthAdjust="spacingAndGlyphs" xml:space="preserve">1751.15</text>
<rect x="1683" y="387" width="2" height="1" fill="#000"/>
<text x="1688" y="391" font-size="10" fill="#000" textLength="33.0" lengthAdjust="spacingAndGlyphs" xml:space="preserve">1744.85</text>
<rect x="1683" y="420" width="2" height="1" fill="#000"/>
<text x="1688" y="424" font-size="10" fill="#000" textLength="33.0" lengthAdjust="spacingAndGlyphs" xml:space="preserve">1738.55</text>
<rect x="1683" y="453" width="2" height="1" fill="#000"/>
<text x="1688" y="457" font-size="10" fill="#000" textLength="33.0" lengthAdjust="spacingAndGlyphs" xml:space="preserve">1732.25</text>
<rect x="1683" y="486" width="2" height="1" fill="#000"/>
<text x="1688" y="490" font-size="10" fill="#000" textLength="33.0" lengthAdjust="spacingAndGlyphs" xml:space="preserve">1725.95</text>
<rect x="1683" y="519" width="2" height="1" fill="#000"/>
<text x="1688" y="523" font-size="10" fill="#000" textLength="33.0" lengthAdjust="spacingAndGlyphs" xml:space="preserve">1719.65</text>
<rect x="1684" y="40" width="41" height="11" fill="#ff0000"/>
<text x="1688" y="49" font-size="10" fill="#fff" textLength="33.0" lengthAdjust="spacingAndGlyphs" xml:space="preserve">1810.00</text>
<rect x="1684" y="92" width="41" height="11" fill="#ff0000"/>
<text x="1688" y="101" font-size="10" fill="#fff" textLength="33.0" lengthAdjust="spacingAndGlyphs" xml:space="preserve">1800.00</text>
<rect x="1684" y="171" width="41" height="11" fill="#22c322"/>
<text x="1688" y="180" font-size="10" fill="#fff" textLength="33.0" lengthAdjust="spacingAndGlyphs" xml:space="preserve">1785.00</text>
<rect x="1684" y="229" width="41" height="11" fill="#000"/>
<text x="1688" y="238" font-size="10" fill="#fff" textLength="33.0" lengthAdjust="spacingAndGlyphs" xml:space="preserve">1774.15</text>
<rect x="1684" y="249" width="41" height="11" fill="#3a63dc"/>
<text x="1688" y="258" font-size="10" fill="#fff" textLength="33.0" lengthAdjust="spacingAndGlyphs" xml:space="preserve">1770.00</text>
<rect x="1684" y="302" width="41" height="11" fill="#3a63dc"/>
<text x="1688" y="311" font-size="10" fill="#fff" textLength="33.0" lengthAdjust="spacingAndGlyphs" xml:space="preserve">1760.00</text>
<rect x="1683" y="526" width="1" height="1" fill="#000"/>
<text x="1686" y="535" font-size="10" fill="#000" textLength="27.4" lengthAdjust="spacingAndGlyphs" xml:space="preserve">11.295</text>
<rect x="1683" y="620" width="1" height="1" fill="#000"/>
<text x="1686" y="624" font-size="10" fill="#000" textLength="18.2" lengthAdjust="spacingAndGlyphs" xml:space="preserve">0.00</text>
<rect x="1683" y="689" width="1" height="1" fill="#000"/>
<text x="1686" y="687" font-size="10" fill="#000" textLength="25.4" lengthAdjust="spacingAndGlyphs" xml:space="preserve">-8.221</text>
<rect x="1683" y="694" width="1" height="1" fill="#000"/>
<text x="1686.5" y="703" font-size="10" fill="#000" textLength="14.4" lengthAdjust="spacingAndGlyphs" xml:space="preserve">100</text>
<rect x="1683" y="730" width="1" height="1" fill="#000"/>
<text x="1686" y="734" font-size="10" fill="#000" textLength="9.4" lengthAdjust="spacingAndGlyphs" xml:space="preserve">70</text>
<rect x="1683" y="780" width="1" height="1" fill="#000"/>
<text x="1686" y="784" font-size="10" fill="#000" textLength="9.4" lengthAdjust="spacingAndGlyphs" xml:space="preserve">30</text>
<rect x="1683" y="815" width="1" height="1" fill="#000"/>
<text x="1686" y="814" font-size="10" fill="#000" textLength="4.6" lengthAdjust="spacingAndGlyphs" xml:space="preserve">0</text>
<text x="6" y="537" font-size="10" fill="#000" textLength="66.0" lengthAdjust="spacingAndGlyphs" xml:space="preserve">MACD(12,26,9)</text>
<text x="75.2" y="537" font-size="10" fill="#000" textLength="25.8" lengthAdjust="spacingAndGlyphs" xml:space="preserve">-4.717</text>
<text x="104.3" y="537" font-size="10" fill="#000" textLength="26.2" lengthAdjust="spacingAndGlyphs" xml:space="preserve">-2.740</text>
<text x="6" y="705" font-size="10" fill="#000" textLength="32.0" lengthAdjust="spacingAndGlyphs" xml:space="preserve">RSI(14)</text>
<text x="40.6" y="705" font-size="10" fill="#000" textLength="33.8" lengthAdjust="spacingAndGlyphs" xml:space="preserve">39.8612</text>
<rect x="2" y="818" width="1" height="3" fill="#000"/>
<text x="0.8" y="830" font-size="10" fill="#000" textLength="51.8" lengthAdjust="spacingAndGlyphs" xml:space="preserve">27 Sep 2021</text>
<rect x="66" y="818" width="1" height="3" fill="#000"/>
<text x="64.8" y="830" font-size="10" fill="#000" textLength="55.0" lengthAdjust="spacingAndGlyphs" xml:space="preserve">28 Sep 16:00</text>
<rect x="130" y="818" width="1" height="3" fill="#000"/>
<text x="128.8" y="830" font-size="10" fill="#000" textLength="55.0" lengthAdjust="spacingAndGlyphs" xml:space="preserve">30 Sep 00:00</text>
<rect x="194" y="818" width="1" height="3" fill="#000"/>
<text x="192.5" y="830" font-size="10" fill="#000" textLength="49.6" lengthAdjust="spacingAndGlyphs" xml:space="preserve">1 Oct 08:00</text>
<rect x="258" y="818" width="1" height="3" fill="#000"/>
<text x="256.8" y="830" font-size="10" fill="#000" textLength="49.6" lengthAdjust="spacingAndGlyphs" xml:space="preserve">4 Oct 16:00</text>
<rect x="322" y="818" width="1" height="3" fill="#000"/>
<text x="320.8" y="830" font-size="10" fill="#000" textLength="49.6" lengthAdjust="spacingAndGlyphs" xml:space="preserve">6 Oct 00:00</text>
<rect x="386" y="818" width="1" height="3" fill="#000"/>
<text x="384.8" y="830" font-size="10" fill="#000" textLength="49.6" lengthAdjust="spacingAndGlyphs" xml:space="preserve">7 Oct 08:00</text>
<rect x="450" y="818" width="1" height="3" fill="#000"/>
<text x="448.8" y="830" font-size="10" fill="#000" textLength="49.6" lengthAdjust="spacingAndGlyphs" xml:space="preserve">8 Oct 16:00</text>
<rect x="514" y="818" width="1" height="3" fill="#000"/>
<text x="512.5" y="830" font-size="10" fill="#000" textLength="54.6" lengthAdjust="spacingAndGlyphs" xml:space="preserve">12 Oct 00:00</text>
<rect x="578" y="818" width="1" height="3" fill="#000"/>
<text x="576.5" y="830" font-size="10" fill="#000" textLength="54.6" lengthAdjust="spacingAndGlyphs" xml:space="preserve">13 Oct 08:00</text>
<rect x="642" y="818" width="1" height="3" fill="#000"/>
<text x="640.5" y="830" font-size="10" fill="#000" textLength="54.6" lengthAdjust="spacingAndGlyphs" xml:space="preserve">14 Oct 16:00</text>
<rect x="706" y="818" width="1" height="3" fill="#000"/>
<text x="704.5" y="830" font-size="10" fill="#000" textLength="54.6" lengthAdjust="spacingAndGlyphs" xml:space="preserve">18 Oct 00:00</text>
<rect x="770" y="818" width="1" height="3" fill="#000"/>
<text x="768.5" y="830" font-size="10" fill="#000" textLength="54.6" lengthAdjust="spacingAndGlyphs" xml:space="preserve">19 Oct 08:00</text>
<rect x="834" y="818" width="1" height="3" fill="#000"/>
<text x="832.8" y="830" font-size="10" fill="#000" textLength="54.6" lengthAdjust="spacingAndGlyphs" xml:space="preserve">20 Oct 16:00</text>
<rect x="898" y="818" width="1" height="3" fill="#000"/>
<text x="896.8" y="830" font-size="10" fill="#000" textLength="54.6" lengthAdjust="spacingAndGlyphs" xml:space="preserve">22 Oct 00:00</text>
<rect x="962" y="818" width="1" height="3" fill="#000"/>
<text x="960.8" y="830" font-size="10" fill="#000" textLength="54.6" lengthAdjust="spacingAndGlyphs" xml:space="preserve">25 Oct 08:00</text>
<rect x="1026" y="818" width="1" height="3" fill="#000"/>
<text x="1024.8" y="830" font-size="10" fill="#000" textLength="54.6" lengthAdjust="spacingAndGlyphs" xml:space="preserve">26 Oct 16:00</text>
<rect x="1090" y="818" width="1" height="3" fill="#000"/>
<text x="1088.8" y="830" font-size="10" fill="#000" textLength="54.6" lengthAdjust="spacingAndGlyphs" xml:space="preserve">28 Oct 00:00</text>
<rect x="1154" y="818" width="1" height="3" fill="#000"/>
<text x="1152.8" y="830" font-size="10" fill="#000" textLength="54.6" lengthAdjust="spacingAndGlyphs" xml:space="preserve">29 Oct 08:00</text>
<rect x="1218" y="818" width="1" height="3" fill="#000"/>
<text x="1216.5" y="830" font-size="10" fill="#000" textLength="51.6" lengthAdjust="spacingAndGlyphs" xml:space="preserve">1 Nov 16:00</text>
<rect x="1282" y="818" width="1" height="3" fill="#000"/>
<text x="1280.8" y="830" font-size="10" fill="#000" textLength="51.6" lengthAdjust="spacingAndGlyphs" xml:space="preserve">3 Nov 00:00</text>
</g>
<g fill="#c0c0c0">
<rect x="2" y="620" width="1" height="40"/>
<rect x="10" y="620" width="1" height="40"/>
<rect x="18" y="620" width="1" height="39"/>
<rect x="26" y="620" width="1" height="38"/>
<rect x="34" y="620" width="1" height="37"/>
<rect x="42" y="620" width="1" height="40"/>
<rect x="50" y="620" width="1" height="48"/>
<rect x="58" y="620" width="1" height="53"/>
<rect x="66" y="620" width="1" height="57"/>
<rect x="74" y="620" width="1" height="60"/>
<rect x="82" y="620" width="1" height="57"/>
<rect x="90" y="620" width="1" height="55"/>
<rect x="98" y="620" width="1" height="50"/>
<rect x="106" y="620" width="1" height="54"/>
<rect x="114" y="620" width="1" height="60"/>
<rect x="122" y="620" width="1" height="62"/>
<rect x="130" y="620" width="1" height="60"/>
<rect x="138" y="620" width="1" height="59"/>
<rect x="146" y="620" width="1" height="61"/>
<rect x="154" y="620" width="1" height="40"/>
<rect x="162" y="620" width="1" height="25"/>
<rect x="170" y="620" width="1" height="15"/>
<rect x="178" y="620" width="1" height="6"/>
<rect x="194" y="615" width="1" height="6"/>
<rect x="202" y="606" width="1" height="15"/>
<rect x="210" y="600" width="1" height="21"/>
<rect x="218" y="594" width="1" height="27"/>
<rect x="226" y="592" width="1" height="29"/>
<rect x="234" y="594" width="1" height="27"/>
<rect x="242" y="596" width="1" height="25"/>
<rect x="250" y="590" width="1" height="31"/>
<rect x="258" y="583" width="1" height="38"/>
<rect x="266" y="579" width="1" height="42"/>
<rect x="274" y="582" width="1" height="39"/>
<rect x="282" y="584" width="1" height="37"/>
<rect x="290" y="589" width="1" height="32"/>
<rect x="298" y="590" width="1" height="31"/>
<rect x="306" y="591" width="1" height="30"/>
<rect x="314" y="594" width="1" height="27"/>
<rect x="322" y="598" width="1" height="23"/>
<rect x="330" y="607" width="1" height="14"/>
<rect x="338" y="610" width="1" height="11"/>
<rect x="346" y="607" width="1" height="14"/>
<rect x="354" y="604" width="1" height="17"/>
<rect x="362" y="601" width="1" height="20"/>
<rect x="370" y="601" width="1" height="20"/>
<rect x="378" y="599" width="1" height="22"/>
<rect x="386" y="600" width="1" height="21"/>
<rect x="394" y="604" width="1" height="17"/>
<rect x="402" y="608" width="1" height="13"/>
<rect x="410" y="612" width="1" height="9"/>
<rect x="418" y="613" width="1" height="8"/>
<rect x="426" y="615" width="1" height="6"/>
<rect x="434" y="613" width="1" height="8"/>
<rect x="442" y="614" width="1" height="7"/>
<rect x="450" y="615" width="1" height="6"/>
<rect x="458" y="619" width="1" height="2"/>
<rect x="482" y="620" width="1" height="2"/>
<rect x="490" y="620" width="1" height="2"/>
<rect x="498" y="620" width="1" height="4"/>
<rect x="506" y="620" width="1" height="6"/>
<rect x="514" y="620" width="1" height="3"/>
<rect x="522" y="620" width="1" height="2"/>
<rect x="538" y="619" width="1" height="2"/>
<rect x="546" y="617" width="1" height="4"/>
<rect x="554" y="616" width="1" height="5"/>
<rect x="562" y="614" width="1" height="7"/>
<rect x="570" y="610" width="1" height="11"/>
<rect x="578" y="602" width="1" height="19"/>
<rect x="586" y="582" width="1" height="39"/>
<rect x="594" y="568" width="1" height="53"/>
<rect x="602" y="558" width="1" height="63"/>
<rect x="610" y="553" width="1" height="68"/>
<rect x="618" y="547" width="1" height="74"/>
<rect x="626" y="541" width="1" height="80"/>
<rect x="634" y="536" width="1" height="85"/>
<rect x="642" y="534" width="1" height="87"/>
<rect x="650" y="534" width="1" height="87"/>
<rect x="658" y="536" width="1" height="85"/>
<rect x="666" y="543" width="1" height="78"/>
<rect x="674" y="556" width="1" height="65"/>
<rect x="682" y="573" width="1" height="48"/>
<rect x="690" y="588" width="1" height="33"/>
<rect x="698" y="597" width="1" height="24"/>
<rect x="706" y="607" width="1" height="14"/>
<rect x="714" y="617" width="1" height="4"/>
<rect x="722" y="620" width="1" height="5"/>
<rect x="730" y="620" width="1" height="9"/>
<rect x="738" y="620" width="1" height="14"/>
<rect x="746" y="620" width="1" height="18"/>
<rect x="754" y="620" width="1" height="14"/>
<rect x="762" y="620" width="1" height="6"/>
<rect x="786" y="620" width="1" height="4"/>
<rect x="794" y="620" width="1" height="7"/>
<rect x="802" y="620" width="1" height="5"/>
<rect x="818" y="619" width="1" height="2"/>
<rect x="826" y="613" width="1" height="8"/>
<rect x="834" y="607" width="1" height="14"/>
<rect x="842" y="605" width="1" height="16"/>
<rect x="850" y="600" width="1" height="21"/>
<rect x="858" y="600" width="1" height="21"/>
<rect x="866" y="602" width="1" height="19"/>
<rect x="874" y="602" width="1" height="19"/>
<rect x="882" y="600" width="1" height="21"/>
<rect x="890" y="599" width="1" height="22"/>
<rect x="898" y="597" width="1" height="24"/>
<rect x="906" y="591" width="1" height="30"/>
<rect x="914" y="588" width="1" height="33"/>
<rect x="922" y="590" width="1" height="31"/>
<rect x="930" y="586" width="1" height="35"/>
<rect x="938" y="584" width="1" height="37"/>
<rect x="946" y="579" width="1" height="42"/>
<rect x="954" y="576" width="1" height="45"/>
<rect x="962" y="572" width="1" height="49"/>
<rect x="970" y="565" width="1" height="56"/>
<rect x="978" y="561" width="1" height="60"/>
<rect x="986" y="558" width="1" height="63"/>
<rect x="994" y="560" width="1" height="61"/>
<rect x="1002" y="564" width="1" height="57"/>
<rect x="1010" y="567" width="1" height="54"/>
<rect x="1018" y="576" width="1" height="45"/>
<rect x="1026" y="583" width="1" height="38"/>
<rect x="1034" y="589" width="1" height="32"/>
<rect x="1042" y="596" width="1" height="25"/>
<rect x="1050" y="604" width="1" height="17"/>
<rect x="1058" y="607" width="1" height="14"/>
<rect x="1066" y="608" width="1" height="13"/>
<rect x="1074" y="606" width="1" height="15"/>
<rect x="1082" y="606" width="1" height="15"/>
<rect x="1090" y="605" width="1" height="16"/>
<rect x="1098" y="601" width="1" height="20"/>
<rect x="1106" y="600" width="1" height="21"/>
<rect x="1114" y="599" width="1" height="22"/>
<rect x="1122" y="600" width="1" height="21"/>
<rect x="1130" y="601" width="1" height="20"/>
<rect x="1138" y="603" width="1" height="18"/>
<rect x="1146" y="606" width="1" height="15"/>
<rect x="1154" y="610" width="1" height="11"/>
<rect x="1162" y="620" width="1" height="3"/>
<rect x="1170" y="620" width="1" height="11"/>
<rect x="1178" y="620" width="1" height="18"/>
<rect x="1186" y="620" width="1" height="21"/>
<rect x="1194" y="620" width="1" height="24"/>
<rect x="1202" y="620" width="1" height="24"/>
<rect x="1210" y="620" width="1" height="19"/>
<rect x="1218" y="620" width="1" height="14"/>
<rect x="1226" y="620" width="1" height="12"/>
<rect x="1234" y="620" width="1" height="10"/>
<rect x="1242" y="620" width="1" height="7"/>
<rect x="1250" y="620" width="1" height="6"/>
<rect x="1258" y="620" width="1" height="7"/>
<rect x="1266" y="620" width="1" height="8"/>
<rect x="1274" y="620" width="1" height="9"/>
<rect x="1282" y="620" width="1" height="13"/>
<rect x="1290" y="620" width="1" height="17"/>
<rect x="1298" y="620" width="1" height="17"/>
<rect x="1306" y="620" width="1" height="32"/>
<rect x="1314" y="620" width="1" height="36"/>
<rect x="1322" y="620" width="1" height="39"/>
<rect x="1330" y="620" width="1" height="40"/>
</g>
<path d="M2 663.5h1M3 663.5h1M4 663.5h1M8 663.5h1M9 663.5h1M10 663.5h1M14 663.5h1M15 663.5h1M16 663.5h1M20 663.5h1M21 663.5h1M22 663.5h1M26 662.5h1M27 662.5h1M28 662.5h1M32 661.5h1M33 661.5h1M34 661.5h1M38 661.5h1M39 661.5h1M40 661.5h1M44 661.5h1M45 661.5h1M46 661.5h1M50 661.5h1M51 661.5h1M52 661.5h1M56 662.5h1M57 662.5h1M58 662.5h1M62 662.5h1M63 662.5h1M64 662.5h1M68 664.5h1M69.5 664v1M70 665.5h1M74 666.5h1M75 666.5h1M76.5 666v1M80 667.5h1M81.5 667v1M82 668.5h1M86 669.5h1M87 669.5h1M88 669.5h1M92 670.5h1M93 670.5h1M94.5 670v1M98 671.5h1M99 671.5h1M100 671.5h1M104 672.5h1M105 672.5h1M106.5 672v1M110.5 673v1M111 674.5h1M112 674.5h1M116 675.5h1M117 675.5h1M118 675.5h1M122 676.5h1M123 676.5h1M124 676.5h1M128.5 676v1M129 677.5h1M130 677.5h1M134 677.5h1M135 677.5h1M136 677.5h1M140 677.5h1M141 677.5h1M142 677.5h1M146.5 676v1M147 676.5h1M148 676.5h1M152 676.5h1M153 676.5h1M154.5 675v1M158 674.5h1M159.5 673v1M160 673.5h1M164 671.5h1M165.5 670v1M166 670.5h1M170.5 667v1M171 667.5h1M172.5 666v1M176 664.5h1M177.5 663v1M178.5 662v1M182 660.5h1M183.5 659v1M184.5 658v1M188.5 655v1M189.5 653v2M190.5 652v1M194.5 648v1M195.5 647v1M196.5 646v1M200.5 642v1M201.5 641v1M202.5 640v1M206.5 636v1M207.5 635v1M208.5 633v2M212.5 628v2M213.5 627v1M214.5 626v1M218.5 622v1M219.5 621v1M220.5 619v2M224.5 615v1M225.5 614v1M226.5 613v1M230.5 610v1M231 610.5h1M232.5 609v1M236.5 606v1M237 606.5h1M238.5 605v1M242.5 603v1M243 603.5h1M244.5 602v1M248 601.5h1M249.5 600v1M250 600.5h1M254 598.5h1M255.5 597v1M256 597.5h1M260.5 594v1M261 594.5h1M262.5 593v1M266 592.5h1M267.5 591v1M268 591.5h1M272.5 589v1M273 589.5h1M274.5 588v1M278 587.5h1M279 587.5h1M280 587.5h1M284 587.5h1M285 587.5h1M286 587.5h1M290.5 586v1M291 586.5h1M292 586.5h1M296 586.5h1M297 586.5h1M298 586.5h1M302 586.5h1M303 586.5h1M304 586.5h1M308 586.5h1M309 586.5h1M310 586.5h1M314 586.5h1M315 586.5h1M316 586.5h1M320 587.5h1M321 587.5h1M322 587.5h1M326 588.5h1M327 588.5h1M328.5 588v1M332 590.5h1M333 590.5h1M334.5 590v1M338 592.5h1M339.5 592v1M340 593.5h1M344.5 594v1M345 595.5h1M346.5 595v1M350 597.5h1M351 597.5h1M352.5 597v1M356.5 598v1M357 599.5h1M358 599.5h1M362.5 599v1M363 600.5h1M364 600.5h1M368.5 600v1M369 601.5h1M370 601.5h1M374.5 601v1M375 602.5h1M376 602.5h1M380 602.5h1M381 602.5h1M382 602.5h1M386.5 602v1M387 603.5h1M388 603.5h1M392 603.5h1M393 603.5h1M394 603.5h1M398 603.5h1M399 603.5h1M400 603.5h1M404 603.5h1M405 603.5h1M406 603.5h1M410 603.5h1M411 603.5h1M412 603.5h1M416 603.5h1M417.5 603v1M418 604.5h1M422 604.5h1M423.5 604v1M424 605.5h1M428.5 605v1M429 606.5h1M430 606.5h1M434.5 606v1M435 607.5h1M436 607.5h1M440 607.5h1M441.5 607v1M442 608.5h1M446 608.5h1M447.5 608v1M448 609.5h1M452.5 609v1M453 610.5h1M454 610.5h1M458.5 611v1M459 612.5h1M460 612.5h1M464 613.5h1M465.5 613v1M466 614.5h1M470 615.5h1M471 615.5h1M472 615.5h1M476 615.5h1M477.5 615v1M478 616.5h1M482 616.5h1M483 616.5h1M484 616.5h1M488 617.5h1M489 617.5h1M490 617.5h1M494 618.5h1M495 618.5h1M496 618.5h1M500 618.5h1M501.5 618v1M502 619.5h1M506.5 619v1M507 620.5h1M508 620.5h1M512 621.5h1M513 621.5h1M514 621.5h1M518 622.5h1M519 622.5h1M520 622.5h1M524.5 622v1M525 623.5h1M526 623.5h1M530 623.5h1M531 623.5h1M532.5 622v1M536 622.5h1M537 622.5h1M538 622.5h1M542 622.5h1M543 622.5h1M544 622.5h1M548 621.5h1M549 621.5h1M550 621.5h1M554 621.5h1M555.5 620v1M556 620.5h1M560 620.5h1M561.5 619v1M562 619.5h1M566 619.5h1M567.5 618v1M568 618.5h1M572.5 617v1M573 617.5h1M574 617.5h1M578.5 615v1M579.5 614v1M580.5 613v1M584.5 610v1M585 610.5h1M586.5 609v1M590.5 606v1M591.5 605v1M592.5 604v1M596.5 601v1M597.5 600v1M598.5 599v1M602 596.5h1M603.5 595v1M604.5 594v1M608.5 591v1M609.5 590v1M610.5 589v1M614.5 585v1M615.5 584v1M616.5 583v1M620.5 579v1M621.5 578v1M622.5 577v1M626.5 573v1M627.5 572v1M628.5 570v2M632.5 566v1M633.5 565v1M634.5 564v1M638.5 560v1M639.5 559v1M640.5 558v1M644.5 554v1M645.5 553v1M646.5 552v1M650.5 548v1M651 548.5h1M652.5 547v1M656.5 545v1M657 545.5h1M658.5 544v1M662 543.5h1M663.5 542v1M664 542.5h1M668 541.5h1M669 541.5h1M670 541.5h1M674 541.5h1M675 541.5h1M676 541.5h1M680.5 542v1M681 543.5h1M682.5 543v1M686.5 545v1M687 546.5h1M688.5 546v1M692 549.5h1M693.5 549v1M694.5 550v1M698.5 553v1M699.5 554v1M700.5 555v1M704.5 559v1M705.5 560v1M706.5 561v2M710.5 566v1M711.5 567v1M712.5 568v1M716.5 573v1M717.5 574v1M718.5 575v1M722.5 580v2M723.5 582v1M724.5 583v2M728.5 588v2M729.5 590v1M730.5 591v1M734.5 596v1M735.5 597v1M736.5 598v2M740.5 603v1M741.5 604v1M742.5 605v1M746.5 609v1M747.5 610v1M748.5 611v1M752.5 615v2M753 617.5h1M754.5 617v1M758.5 620v1M759 621.5h1M760.5 621v1M764 624.5h1M765 624.5h1M766 624.5h1M770 625.5h1M771 625.5h1M772.5 625v1M776 626.5h1M777.5 626v1M778 627.5h1M782.5 627v1M783 628.5h1M784 628.5h1M788 628.5h1M789 628.5h1M790 628.5h1M794 628.5h1M795 628.5h1M796 628.5h1M800 628.5h1M801 628.5h1M802 628.5h1M806 627.5h1M807 627.5h1M808.5 626v1M812 625.5h1M813 625.5h1M814 625.5h1M818 624.5h1M819.5 623v1M820 623.5h1M824 622.5h1M825 622.5h1M826.5 621v1M830 621.5h1M831 621.5h1M832 621.5h1M836 620.5h1M837.5 619v1M838 619.5h1M842 618.5h1M843 618.5h1M844.5 617v1M848 616.5h1M849.5 615v1M850 615.5h1M854.5 613v1M855 613.5h1M856.5 612v1M860 611.5h1M861 611.5h1M862 611.5h1M866 610.5h1M867 610.5h1M868.5 609v1M872 608.5h1M873.5 607v1M874 607.5h1M878 605.5h1M879 605.5h1M880.5 604v1M884 603.5h1M885 603.5h1M886 603.5h1M890 602.5h1M891.5 601v1M892 601.5h1M896 600.5h1M897 600.5h1M898 600.5h1M902 599.5h1M903 599.5h1M904 599.5h1M908 598.5h1M909 598.5h1M910 598.5h1M914 597.5h1M915 597.5h1M916 597.5h1M920 596.5h1M921.5 595v1M922 595.5h1M926 594.5h1M927 594.5h1M928 594.5h1M932 593.5h1M933 593.5h1M934.5 592v1M938.5 591v1M939 591.5h1M940 591.5h1M944 589.5h1M945 589.5h1M946.5 588v1M950 588.5h1M951.5 587v1M952 587.5h1M956 586.5h1M957.5 585v1M958 585.5h1M962.5 583v1M963 583.5h1M964.5 582v1M968.5 580v1M969 580.5h1M970.5 579v1M974 578.5h1M975 578.5h1M976.5 577v1M980 576.5h1M981.5 575v1M982 575.5h1M986.5 573v1M987.5 572v1M988 572.5h1M992 570.5h1M993.5 569v1M994 569.5h1M998 569.5h1M999 569.5h1M1000 569.5h1M1004 568.5h1M1005.5 567v1M1006 567.5h1M1010 567.5h1M1011 567.5h1M1012 567.5h1M1016 566.5h1M1017 566.5h1M1018 566.5h1M1022 566.5h1M1023 566.5h1M1024 566.5h1M1028.5 566v1M1029 567.5h1M1030 567.5h1M1034.5 568v1M1035 569.5h1M1036 569.5h1M1040 571.5h1M1041.5 571v1M1042 572.5h1M1046.5 573v1M1047 574.5h1M1048.5 574v1M1052.5 577v1M1053 578.5h1M1054.5 578v1M1058.5 581v1M1059.5 582v1M1060 583.5h1M1064.5 585v1M1065 586.5h1M1066.5 586v1M1070.5 589v1M1071 590.5h1M1072.5 590v1M1076.5 592v1M1077 593.5h1M1078.5 593v1M1082.5 595v1M1083.5 596v1M1084 597.5h1M1088 599.5h1M1089 599.5h1M1090.5 599v1M1094 601.5h1M1095 601.5h1M1096.5 601v1M1100 602.5h1M1101.5 602v1M1102 603.5h1M1106 603.5h1M1107 603.5h1M1108 603.5h1M1112 603.5h1M1113 603.5h1M1114 603.5h1M1118 603.5h1M1119 603.5h1M1120 603.5h1M1124 603.5h1M1125.5 602v1M1126 602.5h1M1130 602.5h1M1131 602.5h1M1132 602.5h1M1136 601.5h1M1137 601.5h1M1138 601.5h1M1142 601.5h1M1143 601.5h1M1144 601.5h1M1148 602.5h1M1149 602.5h1M1150 602.5h1M1154 602.5h1M1155 602.5h1M1156.5 602v1M1160.5 603v1M1161 604.5h1M1162 604.5h1M1166 606.5h1M1167 606.5h1M1168.5 606v1M1172.5 608v1M1173 609.5h1M1174.5 609v1M1178 612.5h1M1179.5 612v1M1180 613.5h1M1184.5 614v1M1185.5 615v1M1186 616.5h1M1190 619.5h1M1191.5 619v1M1192.5 620v1M1196 623.5h1M1197.5 623v1M1198 624.5h1M1202 626.5h1M1203.5 626v1M1204 627.5h1M1208 629.5h1M1209.5 629v1M1210 630.5h1M1214 632.5h1M1215.5 632v1M1216 633.5h1M1220.5 634v1M1221 635.5h1M1222 635.5h1M1226.5 636v1M1227 637.5h1M1228 637.5h1M1232 637.5h1M1233 637.5h1M1234 637.5h1M1238 637.5h1M1239 637.5h1M1240 637.5h1M1244 636.5h1M1245 636.5h1M1246 636.5h1M1250 635.5h1M1251 635.5h1M1252.5 634v1M1256 634.5h1M1257 634.5h1M1258.5 633v1M1262 633.5h1M1263 633.5h1M1264.5 632v1M1268 631.5h1M1269 631.5h1M1270 631.5h1M1274 630.5h1M1275 630.5h1M1276 630.5h1M1280 630.5h1M1281 630.5h1M1282 630.5h1M1286 630.5h1M1287 630.5h1M1288 630.5h1M1292 630.5h1M1293 630.5h1M1294.5 630v1M1298 631.5h1M1299 631.5h1M1300 631.5h1M1304 632.5h1M1305.5 632v1M1306 633.5h1M1310.5 634v1M1311 635.5h1M1312.5 635v1M1316 637.5h1M1317.5 637v1M1318 638.5h1M1322 640.5h1M1323 640.5h1M1324.5 640v1M1328 642.5h1M1329.5 642v1M1330 643.5h1" stroke="#ff0000" stroke-width="1" fill="none"/>
<path d="M3 730.5H1682M3 780.5H1682" stroke="#c0c0c0" stroke-width="1" stroke-dasharray="3 3" fill="none"/>
<polyline points="2.5,765.7 10.5,762.5 18.5,763.5 26.5,762.0 34.5,763.5 42.5,769.0 50.5,775.0 58.5,773.0 66.5,775.5 74.5,772.0 82.5,766.5 90.5,766.0 98.5,761.0 106.5,772.0 114.5,776.5 122.5,772.0 130.5,767.0 138.5,768.5 146.5,772.0 154.5,744.0 162.5,746.0 170.5,748.5 178.5,747.5 186.5,748.5 194.5,747.0 202.5,742.5 210.5,745.5 218.5,741.5 226.5,746.0 234.5,752.5 242.5,752.5 250.5,742.0 258.5,740.5 266.5,740.5 274.5,749.0 282.5,750.5 290.5,753.5 298.5,749.3 306.5,750.0 314.5,751.0 322.5,755.0 330.5,764.5 338.5,756.0 346.5,748.5 354.5,746.5 362.5,748.0 370.5,752.5 378.5,746.7 386.5,751.0 394.5,755.0 402.5,758.5 410.5,758.5 418.5,753.5 426.5,757.5 434.5,750.0 442.5,754.0 450.5,755.7 458.5,760.5 466.5,758.0 474.5,756.0 482.5,759.5 490.5,755.5 498.5,760.5 506.5,760.5 514.5,753.3 522.5,755.5 530.5,748.3 538.5,750.5 546.5,749.3 554.5,751.5 562.5,748.0 570.5,743.7 578.5,733.0 586.5,720.0 594.5,724.0 602.5,725.6 610.5,730.0 618.5,727.4 626.5,726.4 634.5,724.4 642.5,727.4 650.5,729.0 658.5,730.6 666.5,743.0 674.5,754.0 682.5,765.3 690.5,766.5 698.5,762.0 706.5,765.0 714.5,768.0 722.5,769.5 730.5,763.5 738.5,766.3 746.5,766.3 754.5,753.7 762.5,746.5 770.5,747.7 778.5,758.3 786.5,759.3 794.5,760.5 802.5,754.5 810.5,751.5 818.5,748.7 826.5,744.7 834.5,742.5 842.5,748.3 850.5,743.5 858.5,748.3 866.5,753.3 874.5,749.3 882.5,747.5 890.5,746.3 898.5,744.5 906.5,738.5 914.5,739.5 922.5,749.5 930.5,741.5 938.5,740.3 946.5,737.5 954.5,736.3 962.5,734.5 970.5,729.5 978.5,731.5 986.5,730.5 994.5,739.0 1002.5,743.3 1010.5,741.5 1018.5,758.0 1026.5,754.5 1034.5,754.5 1042.5,759.3 1050.5,761.3 1058.5,756.0 1066.5,752.0 1074.5,748.3 1082.5,750.3 1090.5,747.3 1098.5,744.5 1106.5,744.3 1114.5,745.5 1122.5,750.3 1130.5,748.3 1138.5,753.3 1146.5,755.3 1154.5,759.0 1162.5,776.3 1170.5,770.3 1178.5,772.3 1186.5,765.3 1194.5,768.3 1202.5,761.3 1210.5,752.3 1218.5,753.3 1226.5,754.0 1234.5,755.3 1242.5,751.3 1250.5,757.3 1258.5,758.5 1266.5,760.0 1274.5,761.5 1282.5,766.3 1290.5,769.3 1298.5,763.5 1306.5,783.3 1314.5,769.3 1322.5,767.3 1330.5,767.3" fill="none" stroke="#1e90ff" stroke-width="1" />
<g fill="#ed1c24" shape-rendering="auto">
<text x="1116" y="424.5" font-size="40" font-family="'Liberation Sans', 'Noto Sans CJK SC', sans-serif" fill="#ed1c24" textLength="285" lengthAdjust="spacingAndGlyphs">多空转折点1785</text>
</g>
</svg></body></html>
